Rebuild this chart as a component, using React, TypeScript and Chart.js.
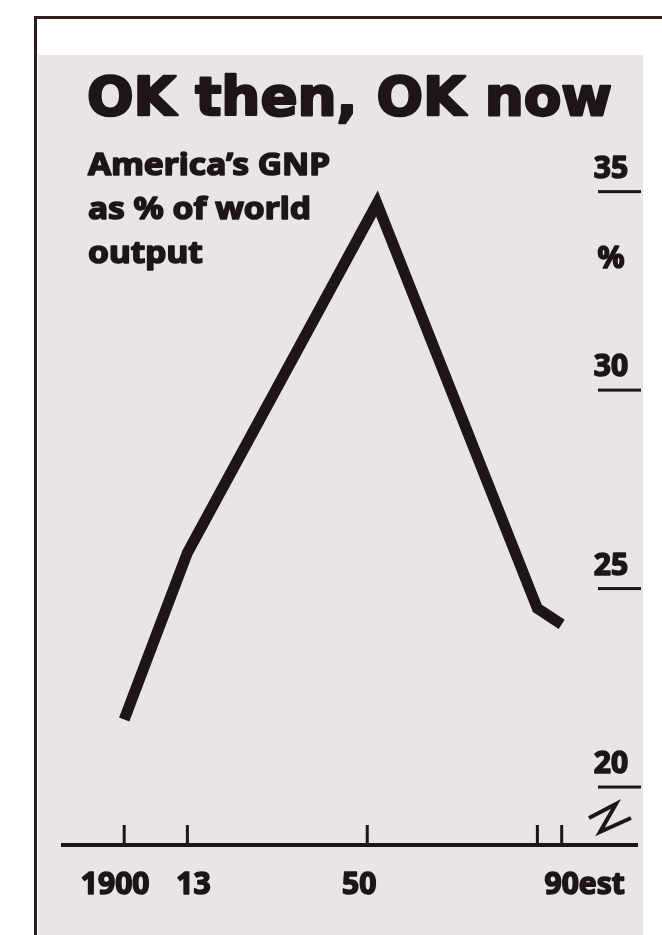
import React, { useEffect, useRef } from "react";
import { Chart, registerables } from "chart.js";

Chart.register(...registerables);

// ---- Data ----
const years = [1900, 1913, 1952, 1985, 1990];
const gnpShare = [21.7, 25.9, 34.7, 24.5, 24.1];

const xTickYears = [1900, 1913, 1950, 1985, 1990];
const xTickLabels = ["1900", "13", "50", "", "90est"];
const yTickValues = [35, 30, 25, 20];
const yTickLabels = ["35", "30", "25", "20"];

const titleText = "OK then, OK now";
const subtitleLines = ["America\u2019s GNP", "as % of world", "output"];
const unitLabel = "%";

const INK = "#1d1517";

function heavyText(ctx: CanvasRenderingContext2D, text: string, x: number, y: number, stroke: number) {
  ctx.fillText(text, x, y);
  ctx.lineWidth = stroke;
  ctx.lineJoin = "round";
  ctx.strokeText(text, x, y);
}

const decorPlugin = {
  id: "decor",
  afterDraw(chart: any) {
    const ctx: CanvasRenderingContext2D = chart.ctx;
    const xs = chart.scales.x;
    const ys = chart.scales.y;
    const area = chart.chartArea;
    ctx.save();
    ctx.fillStyle = INK;
    ctx.strokeStyle = INK;

    // Title
    ctx.font = "bold 54px 'DejaVu Sans'";
    ctx.textAlign = "left";
    ctx.textBaseline = "alphabetic";
    const tw = ctx.measureText(titleText).width;
    ctx.save();
    ctx.translate(87, 115);
    ctx.scale(525 / tw, 1);
    heavyText(ctx, titleText, 0, 0, 2.5);
    ctx.restore();

    // Subtitle
    ctx.font = "bold 31px 'Noto Sans'";
    const sw = ctx.measureText(subtitleLines[0]).width;
    const sScale = 242 / sw;
    subtitleLines.forEach((line, i) => {
      ctx.save();
      ctx.translate(88, 175 + i * 44);
      ctx.scale(sScale, 1);
      heavyText(ctx, line, 0, 0, 1.6);
      ctx.restore();
    });

    // X axis baseline and ticks
    const base = area.bottom;
    ctx.fillRect(area.left, base - 2, area.right - area.left, 4);
    xTickYears.forEach((yr) => {
      const px = xs.getPixelForValue(yr);
      ctx.fillRect(px - 1.5, base - 20, 3, 20);
    });

    // X labels
    ctx.font = "bold 30px 'Noto Sans'";
    const labelOffsets = [-9, 6, -8, 0, 0];
    xTickLabels.forEach((lab, i) => {
      if (!lab) return;
      const px = xs.getPixelForValue(xTickYears[i]);
      if (lab.endsWith("est")) {
        const w90 = ctx.measureText(lab.slice(0, 2)).width;
        ctx.textAlign = "left";
        heavyText(ctx, lab, px - w90 / 2, base + 49, 1.6);
      } else {
        ctx.textAlign = "center";
        heavyText(ctx, lab, px + labelOffsets[i], base + 49, 1.6);
      }
    });

    // Y ticks (right side)
    ctx.textAlign = "center";
    yTickValues.forEach((v, i) => {
      const py = ys.getPixelForValue(v);
      ctx.fillRect(area.right - 40, py - 1.5, 43, 3);
      heavyText(ctx, yTickLabels[i], area.right - 27, py - 14, 1.6);
    });
    // unit
    heavyText(ctx, unitLabel, area.right - 27, 268, 1.6);

    // axis break symbol
    ctx.lineWidth = 4;
    ctx.lineJoin = "miter";
    ctx.beginPath();
    ctx.moveTo(589, 818);
    ctx.lineTo(616, 804);
    ctx.lineTo(600, 832);
    ctx.lineTo(631, 818);
    ctx.stroke();

    ctx.restore();
  },
};

export default function App() {
  const canvasRef = useRef<HTMLCanvasElement | null>(null);

  useEffect(() => {
    if (!canvasRef.current) return;
    const points = years.map((y, i) => ({ x: y, y: gnpShare[i] }));
    const chart = new Chart(canvasRef.current, {
      type: "line",
      data: {
        datasets: [
          {
            data: points,
            borderColor: INK,
            borderWidth: 11,
            pointRadius: 0,
            tension: 0,
            borderJoinStyle: "miter",
            borderCapStyle: "butt",
            fill: false,
            clip: false as any,
          },
        ],
      },
      options: {
        animation: false,
        responsive: false,
        maintainAspectRatio: false,
        layout: { padding: { left: 61, right: 24, top: 40, bottom: 90 } },
        scales: {
          x: { type: "linear", min: 1887, max: 2005.7, display: false },
          y: { type: "linear", min: 18.54, max: 38.82, display: false },
        },
        plugins: {
          legend: { display: false },
          tooltip: { enabled: false },
          title: { display: false },
        },
      },
      plugins: [decorPlugin],
    });
    return () => chart.destroy();
  }, []);

  return (
    <div
      style={{
        position: "fixed",
        left: 0,
        top: 0,
        width: 662,
        height: 935,
        background: "#ffffff",
        overflow: "hidden",
      }}
    >
      <div
        style={{
          position: "absolute",
          left: 38,
          top: 55,
          width: 605,
          height: 880,
          background: "#e9e5e6",
        }}
      />
      <div
        style={{
          position: "absolute",
          left: 34,
          top: 16,
          width: 628,
          height: 3,
          background: "#33201f",
        }}
      />
      <div
        style={{
          position: "absolute",
          left: 34,
          top: 16,
          width: 3,
          height: 919,
          background: "#2a1c1e",
        }}
      />
      <canvas
        ref={canvasRef}
        width={662}
        height={935}
        style={{ position: "absolute", left: 0, top: 0, width: 662, height: 935 }}
      />
    </div>
  );
}
